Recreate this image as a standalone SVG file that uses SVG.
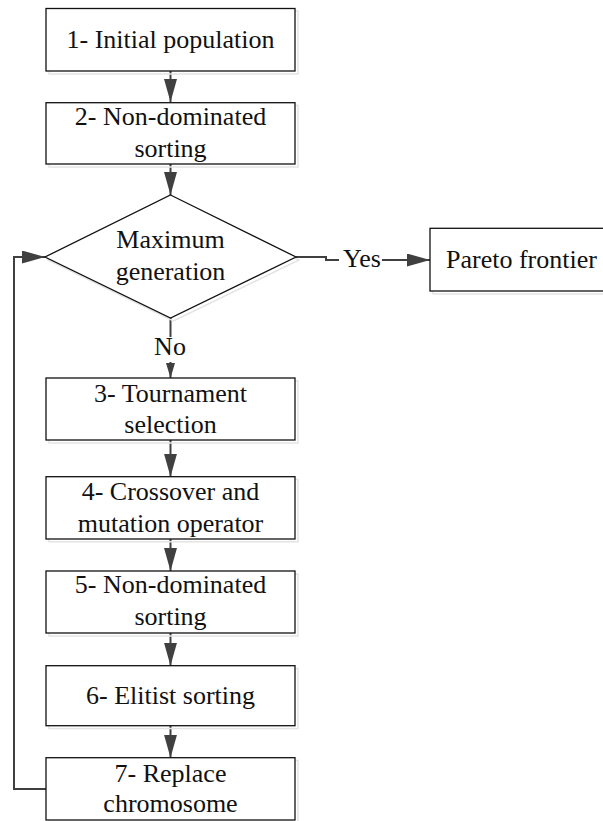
<svg xmlns="http://www.w3.org/2000/svg" width="603" height="821" viewBox="0 0 603 821">
<defs>
<style>
.box{fill:#fff;stroke:#111;stroke-width:1.3}
.sh{fill:none;stroke:#e4e4e4;stroke-width:1.5}
text{font-family:'Liberation Serif','LiberationSerif','Times New Roman',Times,'Noto Serif','DejaVu Serif',FreeSerif,serif;font-size:26px;fill:#111}
.t{text-anchor:middle}
.c{fill:none;stroke:#404040;stroke-width:2}
</style>
<marker id="ah" markerUnits="userSpaceOnUse" markerWidth="24" markerHeight="14" refX="23" refY="6.5" orient="auto">
<path d="M0,0 L23,6.5 L0,13 z" fill="#404040"/>
</marker>
<marker id="ahs" markerUnits="userSpaceOnUse" markerWidth="16" markerHeight="10" refX="15" refY="4.5" orient="auto">
<path d="M0,0 L15,4.5 L0,9 z" fill="#404040"/>
</marker>
</defs>
<rect width="603" height="821" fill="#fff"/>

<g id="connectors">
<path class="c" d="M170.5,71 V102" marker-end="url(#ah)"/>
<path class="c" d="M170.5,164 V195" marker-end="url(#ah)"/>
<path class="c" d="M170.5,318 V337"/>
<path class="c" d="M170.5,362 V378" marker-end="url(#ahs)"/>
<path class="c" d="M296,257 H326 V260 H339"/>
<path class="c" d="M382,260 H430" marker-end="url(#ah)"/>
<path class="c" d="M170.5,440 V476.7" marker-end="url(#ah)"/>
<path class="c" d="M170.5,539 V571" marker-end="url(#ah)"/>
<path class="c" d="M170.5,633 V665.7" marker-end="url(#ah)"/>
<path class="c" d="M170.5,725.7 V757.7" marker-end="url(#ah)"/>
<path class="c" d="M46,789 H14 V257 H45" marker-end="url(#ah)"/>
<text class="t" x="170" y="355">No</text>
<text class="t" x="362" y="267">Yes</text>
</g>

<g id="n1">
<rect class="sh" x="49" y="11" width="249" height="63"/>
<rect class="box" x="46" y="8.5" width="249" height="62.5"/>
<text class="t" x="170.5" y="48">1- Initial population</text>
</g>

<g id="n2">
<rect class="sh" x="49" y="105.5" width="249" height="61.5"/>
<rect class="box" x="46" y="102.7" width="249" height="61.3"/>
<text class="t" x="170.5" y="125">2- Non-dominated</text>
<text class="t" x="170.5" y="156.5">sorting</text>
</g>

<g id="decision">
<path class="sh" d="M173.5,198 L299,260 L173.5,321 L48,260 Z"/>
<path d="M170.5,195 L296,257 L170.5,318 L45,257 Z" fill="#fff" stroke="#111" stroke-width="1.3"/>
<text class="t" x="170.5" y="248">Maximum</text>
<text class="t" x="170.5" y="280">generation</text>
</g>

<g id="pareto">
<rect class="sh" x="433" y="231" width="180" height="63"/>
<rect class="box" x="430" y="228.3" width="180" height="62.7"/>
<text x="446" y="268">Pareto frontier</text>
</g>

<g id="n3">
<rect class="sh" x="49" y="381" width="249" height="62"/>
<rect class="box" x="46" y="378" width="249" height="62"/>
<text class="t" x="170.5" y="401.5">3- Tournament</text>
<text class="t" x="170.5" y="433">selection</text>
</g>

<g id="n4">
<rect class="sh" x="49" y="479.5" width="249" height="62.3"/>
<rect class="box" x="46" y="476.7" width="249" height="62.3"/>
<text class="t" x="170.5" y="500">4- Crossover and</text>
<text class="t" x="170.5" y="531.5">mutation operator</text>
</g>

<g id="n5">
<rect class="sh" x="49" y="574" width="249" height="62"/>
<rect class="box" x="46" y="571" width="249" height="62"/>
<text class="t" x="170.5" y="593">5- Non-dominated</text>
<text class="t" x="170.5" y="625">sorting</text>
</g>

<g id="n6">
<rect class="sh" x="49" y="668.5" width="249" height="60"/>
<rect class="box" x="46" y="665.7" width="249" height="60"/>
<text class="t" x="170.5" y="703.5">6- Elitist sorting</text>
</g>

<g id="n7">
<rect class="sh" x="49" y="760.5" width="249" height="64"/>
<rect class="box" x="46" y="757.7" width="249" height="62.3"/>
<text class="t" x="170.5" y="781.5">7- Replace</text>
<text class="t" x="170.5" y="811.5">chromosome</text>
</g>
</svg>
